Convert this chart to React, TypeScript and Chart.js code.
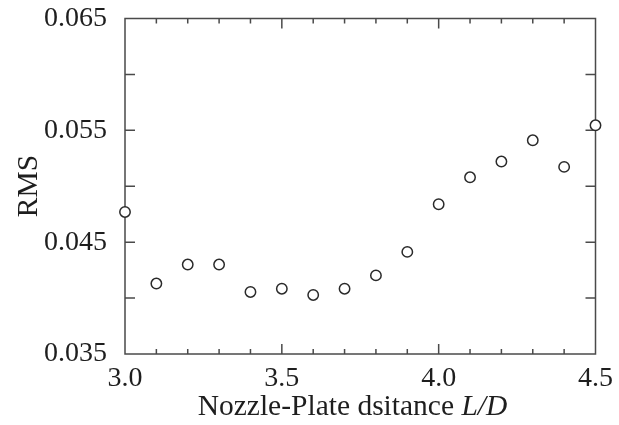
import React, { useEffect, useRef } from "react";
import { Chart, registerables } from "chart.js";

Chart.register(...registerables);

const xValues = [3.0, 3.1, 3.2, 3.3, 3.4, 3.5, 3.6, 3.7, 3.8, 3.9, 4.0, 4.1, 4.2, 4.3, 4.4, 4.5];
const rmsValues = [0.0477, 0.0413, 0.0430, 0.0430, 0.04055, 0.04084, 0.04028, 0.04084, 0.04203, 0.04413, 0.04839, 0.0508, 0.05221, 0.05411, 0.05173, 0.05545];

const xMajorTicks = [3.5, 4.0];
const xMinorTicks = [3.1, 3.2, 3.3, 3.4, 3.6, 3.7, 3.8, 3.9, 4.1, 4.2, 4.3, 4.4];
const yTicks = [0.04, 0.045, 0.05, 0.055, 0.06];

const xTitleMain = "Nozzle-Plate dsitance ";
const xTitleItalic = "L/D";
const yTitle = "RMS";

const FONT = "'Liberation Serif', 'Times New Roman', serif";
const INK = "#1e1e1e";
const FRAME = "#4a4a4a";

const framePlugin = {
  id: "frameTicks",
  beforeDatasetsDraw(chart: any) {
    const { ctx, chartArea } = chart;
    const xs = chart.scales.x;
    const ys = chart.scales.y;
    const { left, right, top, bottom } = chartArea;
    ctx.save();
    ctx.strokeStyle = FRAME;
    ctx.lineWidth = 1.5;
    ctx.strokeRect(left, top, right - left, bottom - top);
    ctx.beginPath();
    const tick = (v: number, len: number) => {
      const px = xs.getPixelForValue(v);
      ctx.moveTo(px, bottom);
      ctx.lineTo(px, bottom - len);
      ctx.moveTo(px, top);
      ctx.lineTo(px, top + len);
    };
    xMajorTicks.forEach((v) => tick(v, 10));
    xMinorTicks.forEach((v) => tick(v, 5));
    yTicks.forEach((v) => {
      const py = ys.getPixelForValue(v);
      ctx.moveTo(left, py);
      ctx.lineTo(left + 10, py);
      ctx.moveTo(right, py);
      ctx.lineTo(right - 10, py);
    });
    ctx.stroke();
    ctx.restore();
  },
  afterDraw(chart: any) {
    const { ctx } = chart;
    ctx.save();
    ctx.fillStyle = INK;
    const normalFont = `29.5px ${FONT}`;
    const italicFont = `italic 29.5px ${FONT}`;
    ctx.font = normalFont;
    const w1 = ctx.measureText(xTitleMain).width;
    ctx.font = italicFont;
    const w2 = ctx.measureText(xTitleItalic).width;
    const cx = 352.5;
    const startX = cx - (w1 + w2) / 2;
    ctx.textBaseline = "alphabetic";
    ctx.textAlign = "left";
    ctx.font = normalFont;
    ctx.fillText(xTitleMain, startX, 415);
    ctx.font = italicFont;
    ctx.fillText(xTitleItalic, startX + w1, 415);
    ctx.font = normalFont;
    ctx.translate(37, 186);
    ctx.rotate(-Math.PI / 2);
    ctx.textAlign = "center";
    ctx.fillText(yTitle, 0, 0);
    ctx.restore();
  },
};

export default function App() {
  const ref = useRef<HTMLCanvasElement>(null);
  useEffect(() => {
    if (!ref.current) return;
    const chart = new Chart(ref.current, {
      type: "scatter",
      data: {
        datasets: [
          {
            data: xValues.map((x, i) => ({ x, y: rmsValues[i] })),
            pointRadius: 5.2,
            pointBorderWidth: 1.5,
            pointBorderColor: "#2a2a2a",
            pointBackgroundColor: "#ffffff",
            showLine: false,
            clip: false as any,
          },
        ],
      },
      options: {
        animation: false,
        responsive: true,
        maintainAspectRatio: false,
        layout: { padding: { top: 18.5, right: 23.5, left: 0, bottom: 0 } },
        plugins: { legend: { display: false }, tooltip: { enabled: false } },
        scales: {
          x: {
            type: "linear",
            min: 3.0,
            max: 4.5,
            afterFit: (s: any) => {
              s.height = 71;
              s.paddingLeft = 0;
              s.paddingRight = 0;
            },
            ticks: {
              stepSize: 0.5,
              padding: 8,
              color: INK,
              font: { family: FONT, size: 28 },
              callback: (v: any) => Number(v).toFixed(1),
            },
            grid: { display: false, drawTicks: false },
            border: { display: false },
          },
          y: {
            type: "linear",
            min: 0.035,
            max: 0.065,
            afterFit: (s: any) => {
              s.width = 125;
              s.paddingTop = 0;
              s.paddingBottom = 0;
            },
            ticks: {
              stepSize: 0.01,
              padding: 18,
              color: INK,
              font: { family: FONT, size: 28 },
              callback: (v: any) => Number(v).toFixed(3),
            },
            grid: { display: false, drawTicks: false },
            border: { display: false },
          },
        },
      },
      plugins: [framePlugin],
    });
    return () => chart.destroy();
  }, []);
  return (
    <div style={{ position: "fixed", left: 0, top: 0, width: 619, height: 425 }}>
      <canvas ref={ref} />
    </div>
  );
}
